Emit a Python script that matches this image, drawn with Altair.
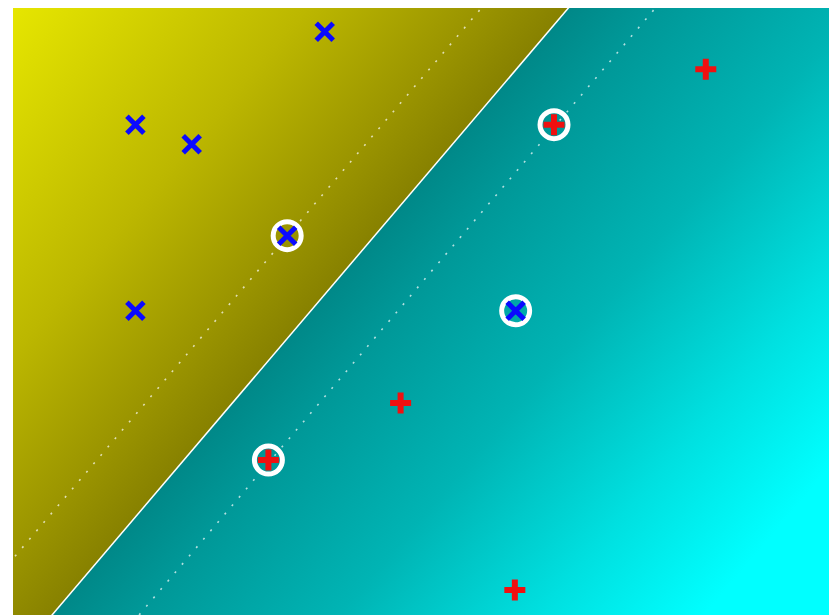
import altair as alt
import pandas as pd

# ---- data (data units: x 0..10, y 0..7.45) ----
XMAX = 10.0
YMAX = 7.45

blue_x = [3.82, 1.50, 2.19, 3.36, 1.50, 6.16]
blue_y = [7.16, 6.02, 5.78, 4.66, 3.74, 3.74]

red_x = [8.49, 6.63, 4.75, 3.13, 6.15]
red_y = [6.70, 6.02, 2.61, 1.91, 0.32]

sv_x = [3.36, 6.16, 6.63, 3.13]
sv_y = [4.66, 3.74, 6.02, 1.91]

# decision function f(x, y) = w0*x + w1*y + b
w = [0.938, -0.798]
bias = -0.439

levels = [-1, 0, 1]

# background colour as a function of the decision value f
yellow_f = [-6.4, -3.0, -1.0, 0.0]
yellow_c = ["#e6e600", "#bcb700", "#9a9400", "#878100"]
cyan_f = [0.0, 1.0, 3.3, 5.6, 7.5]
cyan_c = ["#008888", "#009898", "#00b4b4", "#00e0e0", "#00ffff"]

# ---- derived tables ----
def f(x, y):
    return w[0] * x + w[1] * y + bias

rows = []
for lv in levels:
    for yy in [-0.5, YMAX + 0.5]:
        xx = (lv - bias - w[1] * yy) / w[0]
        rows.append({"x": xx, "y": yy, "level": lv})
lines = pd.DataFrame(rows)

blue = pd.DataFrame({"x": blue_x, "y": blue_y})
red = pd.DataFrame({"x": red_x, "y": red_y})
sv = pd.DataFrame({"x": sv_x, "y": sv_y})
bg = pd.DataFrame({"x0": [0.0], "x1": [XMAX], "y0": [0.0], "y1": [YMAX]})

# gradient along the normal of the decision boundary (bounding-box units)
f_tl = f(0, YMAX)
f_br = f(XMAX, 0)
A = w[0] * XMAX
B = -w[1] * YMAX
s = (A + B) / (A * A + B * B)
gx, gy = A * s, B * s


def t_of(val):
    return min(1.0, max(0.0, (val - f_tl) / (f_br - f_tl)))


stops = [alt.GradientStop(offset=t_of(fv), color=c) for fv, c in zip(yellow_f, yellow_c)]
stops += [alt.GradientStop(offset=t_of(fv), color=c) for fv, c in zip(cyan_f, cyan_c)]
stops.append(alt.GradientStop(offset=1, color=cyan_c[-1]))

grad = alt.LinearGradient(gradient="linear", x1=0, y1=0, x2=gx, y2=gy, stops=stops)

xs = alt.Scale(domain=[0, XMAX], nice=False, zero=False)
ys = alt.Scale(domain=[0, YMAX], nice=False, zero=False)

background = alt.Chart(bg).mark_rect(fill=grad).encode(
    x=alt.X("x0:Q", scale=xs, axis=None),
    x2="x1:Q",
    y=alt.Y("y0:Q", scale=ys, axis=None),
    y2="y1:Q",
)

boundary = alt.Chart(lines).transform_filter("datum.level == 0").mark_line(
    color="white", strokeWidth=1.5, clip=True
).encode(
    x=alt.X("x:Q", scale=xs, axis=None),
    y=alt.Y("y:Q", scale=ys, axis=None),
    detail="level:N",
)

margins = alt.Chart(lines).transform_filter("datum.level != 0").mark_line(
    color="white", strokeWidth=1.6, strokeDash=[2, 9], opacity=0.7, clip=True
).encode(
    x=alt.X("x:Q", scale=xs, axis=None),
    y=alt.Y("y:Q", scale=ys, axis=None),
    detail="level:N",
)

rings = alt.Chart(sv).mark_point(
    shape="circle", filled=False, color="white", strokeWidth=5, size=784, opacity=1
).encode(
    x=alt.X("x:Q", scale=xs, axis=None),
    y=alt.Y("y:Q", scale=ys, axis=None),
)

xmarks = alt.Chart(blue).mark_point(
    shape="M-1,-1L1,1M-1,1L1,-1", filled=False, color="#0a0aff",
    strokeWidth=5, size=289, opacity=1
).encode(
    x=alt.X("x:Q", scale=xs, axis=None),
    y=alt.Y("y:Q", scale=ys, axis=None),
)

pmarks = alt.Chart(red).mark_point(
    shape="M-1,0L1,0M0,-1L0,1", filled=False, color="#f01010",
    strokeWidth=6, size=441, opacity=1
).encode(
    x=alt.X("x:Q", scale=xs, axis=None),
    y=alt.Y("y:Q", scale=ys, axis=None),
)

chart = alt.layer(background, boundary, margins, rings, xmarks, pmarks).properties(
    width=816, height=608,
    padding={"left": 5, "top": 0, "right": 0, "bottom": 0},
).configure_view(stroke=None)

chart.save("out.html", embed_options={"renderer": "svg", "actions": False})
